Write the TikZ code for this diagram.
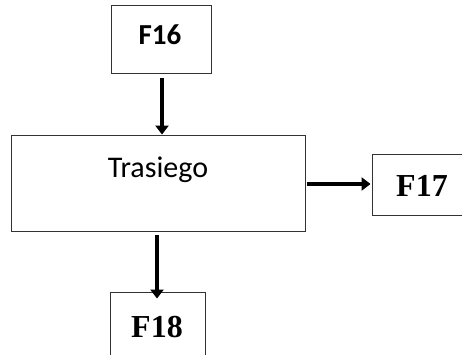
\documentclass[tikz,border=0pt]{standalone}
\usepackage{fontspec}
\setmainfont{Carlito}
\newfontfamily\serifb{Liberation Serif}
\usetikzlibrary{arrows.meta}
\begin{document}
\begin{tikzpicture}[x=1pt,y=-1pt,
  box/.style={draw=black!80,line width=0.9pt,rectangle,inner sep=0pt},
  flow/.style={line width=4.6pt,-{Triangle[width=13pt,length=9pt]}},
  sanslbl/.style={font=\fontsize{30}{32}\selectfont},
  seriflbl/.style={font=\serifb\bfseries\fontsize{32}{34}\selectfont}]
\useasboundingbox (0,0) rectangle (462,355);
\begin{scope}
\clip (0,0) rectangle (462,355);
\node[box,minimum width=100pt,minimum height=68pt] (f16) at (161,39) {};
\node[font=\bfseries\fontsize{29}{31}\selectfont] (f16t) at (160,35) {F16};
\node[box,minimum width=294pt,minimum height=96pt] (tras) at (158,183) {};
\node[sanslbl] (trast) at (158,170) {Trasiego};
\node[box,minimum width=100pt,minimum height=61pt] (f17) at (422,184.5) {};
\node[seriflbl] (f17t) at (422,186) {F17};
\node[box,minimum width=95pt,minimum height=80pt] (f18) at (157.5,332) {};
\node[seriflbl] (f18t) at (157,327) {F18};
\end{scope}
\coordinate (a1) at (162,78);
\coordinate (a2) at (307,184);
\coordinate (a3) at (157,235);
\draw[flow] (a1) -- (a1 |- tras.north);
\draw[flow] (a2) -- ([xshift=-1pt]f17.west |- a2);
\draw[flow] (a3) -- ([yshift=-7pt]a3 |- f18.north);
\end{tikzpicture}
\end{document}
